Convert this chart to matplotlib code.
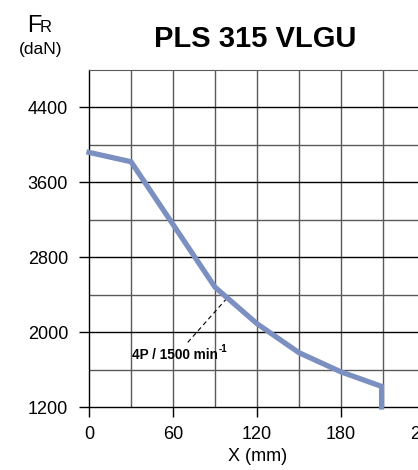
import numpy as np
import matplotlib.pyplot as plt

plt.rcParams['font.family'] = ['Liberation Sans', 'DejaVu Sans']

# curve (x in mm, FR in daN)
x_mm = [0, 30, 60, 90, 120, 150, 180, 209, 209]
fr_dan = [3920, 3820, 3150, 2480, 2090, 1780, 1575, 1420, 1200]

x_ticks = [0, 60, 120, 180, 240]
y_ticks = [1200, 2000, 2800, 3600, 4400]
title = "PLS 315 VLGU"

fig = plt.figure(figsize=(4.18, 4.70), dpi=100)
ax = fig.add_axes([89/418, 63/470, 336/418, 337/470])

ax.set_xlim(0, 240)
ax.set_ylim(1200, 4800)

# grid: every 30 mm and every 400 daN, labelled rows drawn black
for gx in np.arange(30, 240, 30):
    ax.axvline(gx, color='#5a5a5a', lw=1.0, zorder=1)
for gy in np.arange(1600, 4800, 400):
    c = 'black' if gy in y_ticks else '#5a5a5a'
    ax.axhline(gy, color=c, lw=1.0, zorder=1)

ax.plot(x_mm, fr_dan, color='#7b8fc0', lw=3.8, solid_joinstyle='miter', zorder=3, clip_on=False)

# leader line for the curve label
ax.plot([70.5, 99], [1890, 2370], color='black', lw=0.8, ls=(0, (4, 3)), zorder=2)
ax.text(30.5, 1755, "4P / 1500 min", fontsize=9.8, fontweight='bold', va='center', ha='left', zorder=4)
ax.text(92.8, 1815, "-1", fontsize=7, fontweight='bold', va='center', ha='left', zorder=4)

for s in ['top', 'right']:
    ax.spines[s].set_color('#5a5a5a')
for s in ['left', 'bottom']:
    ax.spines[s].set_color('black')
    ax.spines[s].set_linewidth(1.0)

ax.set_xticks(x_ticks)
ax.set_yticks(y_ticks)
ax.set_xticklabels([str(v) for v in x_ticks])
ax.set_yticklabels([str(v) for v in y_ticks])
ax.tick_params(axis='both', direction='out', length=7, width=1.0, labelsize=13)
ax.tick_params(axis='x', pad=7)
ax.tick_params(axis='y', pad=8)

fig.text(258/418, 1 - 461/470, "X (mm)", fontsize=13, ha='center', va='baseline')

fig.text(255/418, 1 - 47/470, title, fontsize=21, fontweight='bold', ha='center', va='baseline')
fig.text(27/418, 1 - 32/470, "F", fontsize=17, ha='left', va='baseline')
fig.text(40/418, 1 - 32/470, "R", fontsize=12, ha='left', va='baseline')
fig.text(40.5/418, 1 - 54/470, "(daN)", fontsize=12.5, ha='center', va='baseline')

fig.savefig('out.png', dpi=100)
